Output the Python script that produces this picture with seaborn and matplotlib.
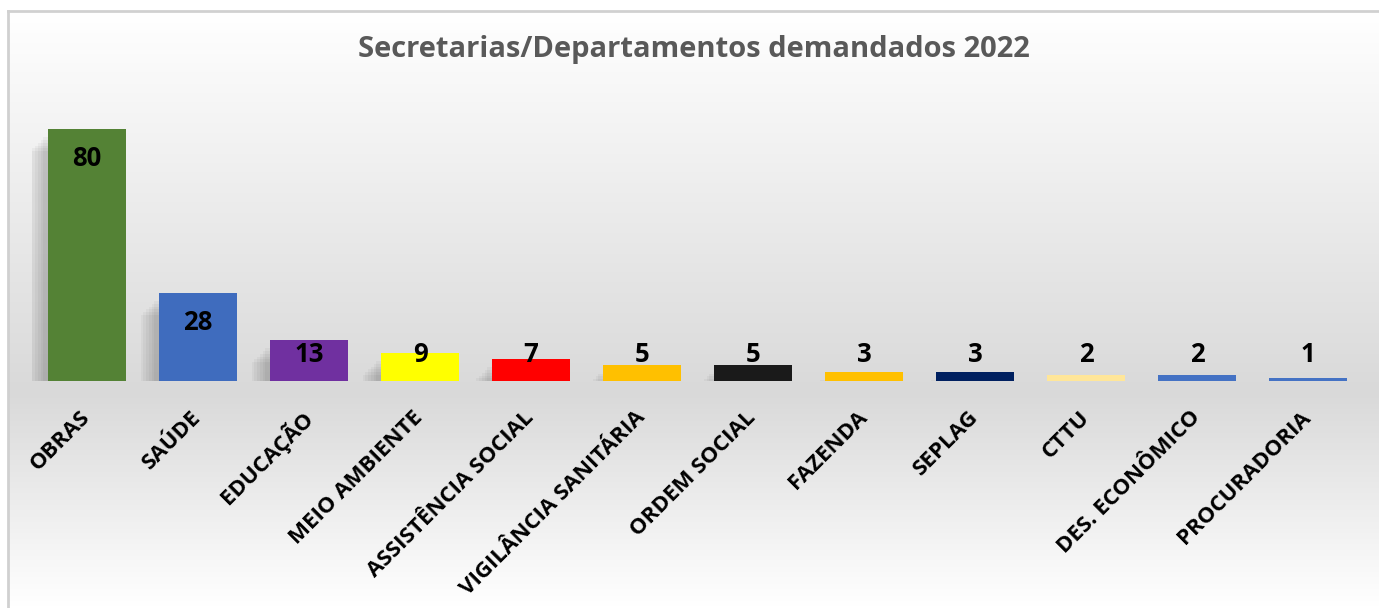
import numpy as np
import pandas as pd
import seaborn as sns
import matplotlib.pyplot as plt
from matplotlib import patheffects as pe
from matplotlib.colors import LinearSegmentedColormap

# data
CATEGORIES = ["OBRAS", "SAÚDE", "EDUCAÇÃO", "MEIO AMBIENTE", "ASSISTÊNCIA SOCIAL",
              "VIGILÂNCIA SANITÁRIA", "ORDEM SOCIAL", "FAZENDA", "SEPLAG", "CTTU",
              "DES. ECONÔMICO", "PROCURADORIA"]
VALUES = [80, 28, 13, 9, 7, 5, 5, 3, 3, 2, 2, 1]
COLORS = ["#548235", "#3F6CBE", "#7030A0", "#FFFF00", "#FF0000", "#FFC000",
          "#1A1A1A", "#FFC000", "#002060", "#FFE699", "#4472C4", "#4472C4"]
TITLE = "Secretarias/Departamentos demandados 2022"

W, H = 1379, 608
FONT = ["Open Sans", "DejaVu Sans"]

df = pd.DataFrame({"secretaria": CATEGORIES, "n": VALUES})
palette = dict(zip(CATEGORIES, COLORS))

sns.set_theme(style="white")
plt.rcParams["font.family"] = FONT

fig = plt.figure(figsize=(W / 100, H / 100), dpi=100)
fig.patch.set_facecolor("white")

# chart-area background: white -> light grey -> white, framed left/top
fx0, fy1 = 8, 11
bg = fig.add_axes([fx0 / W, 0, 1 - fx0 / W, (H - fy1) / H], zorder=0)
cmap = LinearSegmentedColormap.from_list(
    "bg", [(0.0, "#ffffff"), (0.64, "#d9d9d9"), (1.0, "#ffffff")])
bg.imshow(np.linspace(0, 1, 400).reshape(-1, 1), aspect="auto", cmap=cmap,
          extent=[0, 1, 0, 1], origin="upper")
bg.set_xticks([]); bg.set_yticks([])
for side in ("right", "bottom"):
    bg.spines[side].set_visible(False)
for side in ("left", "top"):
    bg.spines[side].set_color("#d0d0d0")
    bg.spines[side].set_linewidth(2)

# plot axes placed in pixels: baseline at y=381, 3.15 px per unit
px_per_unit = 3.15
ymax = 85
left, right, base = 31.5, 1363.5, 381
top = base - px_per_unit * ymax
ax = fig.add_axes([left / W, (H - base) / H, (right - left) / W, (base - top) / H], zorder=1)
ax.patch.set_alpha(0)

sns.barplot(data=df, x="secretaria", y="n", hue="secretaria", palette=palette,
            order=CATEGORIES, hue_order=CATEGORIES, legend=False, width=0.71,
            saturation=1, errorbar=None, ax=ax)

# soft Excel-like shadow to the lower left of the bars
shadow = [pe.SimplePatchShadow(offset=(-d, -d - 3), shadow_rgbFace="black", alpha=0.035)
          for d in (3, 5, 7, 9, 11, 13)]
for p in ax.patches:
    p.set_path_effects(shadow + [pe.Normal()])
    p.set_linewidth(0)

ax.set_xlim(-0.5, len(CATEGORIES) - 0.5)
ax.set_ylim(0, ymax)
ax.set_yticks([])
ax.set_xlabel(""); ax.set_ylabel("")
sns.despine(ax=ax, left=True, bottom=True)

ax.set_xticks(range(len(CATEGORIES)))
ax.set_xticklabels(CATEGORIES, rotation=45, ha="right", va="center",
                   rotation_mode="anchor", fontsize=16, fontweight="bold",
                   color="black", family=FONT)
ax.tick_params(axis="x", length=0, pad=24)

# value labels: inside end of the bar, never lower than a fixed minimum
pad_units = 30 / px_per_unit
min_y = 27 / px_per_unit
for i, v in enumerate(VALUES):
    ax.text(i, max(v - pad_units, min_y), str(v), ha="center", va="center",
            fontsize=18.5, fontweight="bold", color="black", family=FONT)

fig.text((fx0 + W) / 2 / W, (H - 57) / H, TITLE, ha="center", va="baseline",
         fontsize=21, fontweight="bold", color="#595959", family=FONT)

fig.savefig("out.png", dpi=100)
